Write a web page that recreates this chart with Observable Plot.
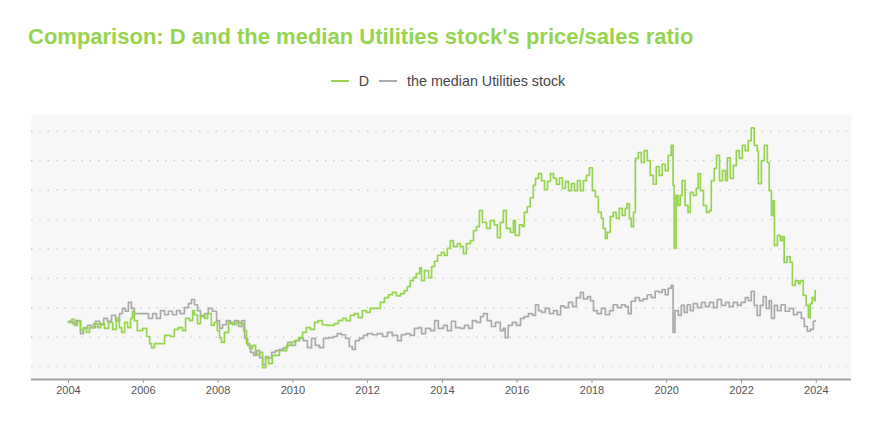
<!DOCTYPE html>
<html>
<head>
<meta charset="utf-8">
<script src="https://cdn.jsdelivr.net/npm/d3@7"></script>
<script src="https://cdn.jsdelivr.net/npm/@observablehq/plot@0.6"></script>
<style>
  html, body { margin: 0; padding: 0; background: #fff; }
  body { width: 880px; height: 440px; position: relative; font-family: "Liberation Sans", Arial, sans-serif; }
  #title { position: absolute; left: 28px; top: 24px; font-size: 22px; font-weight: bold; color: #96d44f; white-space: nowrap; }
  #legend { position: absolute; left: 9px; width: 880px; top: 73px; display: flex; justify-content: center; align-items: center; font-size: 14.3px; color: #444; }
  #legend .sw { display: inline-block; width: 18px; height: 2px; margin: 0 10px 0 4px; }
  #legend .item { display: flex; align-items: center; margin-right: 6px; }
  #chart { position: absolute; left: 0; top: 100px; }
</style>
</head>
<body>
<div id="title">Comparison: D and the median Utilities stock's price/sales ratio</div>
<div id="legend">
  <span class="item"><span class="sw" style="background:#96d44f"></span>D</span>
  <span class="item"><span class="sw" style="background:#aaaaab"></span>the median Utilities stock</span>
</div>
<div id="chart"></div>
<script>
// Series names
const seriesNames = ["D", "the median Utilities stock"];
const seriesColors = ["#96d44f", "#aaaaab"];

// D: decimal years and price/sales values
const dYears = [2004.00,2004.08,2004.16,2004.24,2004.32,2004.40,2004.48,2004.56,2004.67,2004.78,2004.86,2004.96,2005.07,2005.18,2005.28,2005.36,2005.42,2005.50,2005.58,2005.66,2005.71,2005.76,2005.84,2005.98,2006.09,2006.17,2006.22,2006.30,2006.46,2006.57,2006.73,2006.83,2006.94,2007.05,2007.13,2007.24,2007.32,2007.37,2007.45,2007.53,2007.64,2007.72,2007.82,2007.90,2007.98,2008.04,2008.09,2008.17,2008.28,2008.39,2008.49,2008.60,2008.68,2008.76,2008.84,2008.92,2009.00,2009.11,2009.19,2009.27,2009.35,2009.45,2009.56,2009.64,2009.75,2009.83,2009.94,2010.04,2010.15,2010.26,2010.36,2010.47,2010.58,2010.68,2010.79,2010.90,2011.01,2011.11,2011.22,2011.33,2011.43,2011.54,2011.65,2011.75,2011.86,2011.97,2012.07,2012.21,2012.34,2012.45,2012.56,2012.66,2012.77,2012.88,2012.98,2013.06,2013.14,2013.22,2013.30,2013.39,2013.44,2013.52,2013.63,2013.71,2013.79,2013.87,2013.97,2014.05,2014.13,2014.21,2014.29,2014.40,2014.48,2014.56,2014.64,2014.75,2014.83,2014.91,2014.99,2015.07,2015.18,2015.28,2015.39,2015.47,2015.55,2015.63,2015.71,2015.82,2015.90,2015.95,2016.06,2016.14,2016.19,2016.27,2016.35,2016.43,2016.49,2016.57,2016.65,2016.73,2016.81,2016.89,2016.97,2017.05,2017.13,2017.21,2017.29,2017.37,2017.45,2017.53,2017.61,2017.69,2017.77,2017.85,2017.93,2018.01,2018.09,2018.17,2018.25,2018.30,2018.36,2018.41,2018.49,2018.57,2018.65,2018.73,2018.81,2018.89,2018.94,2019.00,2019.05,2019.11,2019.16,2019.24,2019.32,2019.40,2019.48,2019.56,2019.64,2019.72,2019.80,2019.88,2019.96,2020.04,2020.12,2020.17,2020.20,2020.25,2020.30,2020.36,2020.41,2020.49,2020.57,2020.63,2020.71,2020.79,2020.84,2020.90,2020.98,2021.06,2021.14,2021.19,2021.27,2021.33,2021.41,2021.49,2021.57,2021.62,2021.70,2021.78,2021.86,2021.94,2022.02,2022.10,2022.18,2022.26,2022.34,2022.42,2022.45,2022.53,2022.61,2022.69,2022.74,2022.80,2022.85,2022.88,2022.96,2023.04,2023.09,2023.14,2023.22,2023.30,2023.36,2023.44,2023.52,2023.57,2023.65,2023.73,2023.79,2023.84,2023.89,2023.95,2023.97];
const dValues = [1.75,1.80,1.70,1.77,1.61,1.66,1.58,1.66,1.73,1.66,1.73,1.65,1.75,1.63,1.82,1.66,1.58,1.75,1.66,1.82,1.94,1.78,1.61,1.65,1.51,1.39,1.32,1.39,1.39,1.53,1.51,1.63,1.66,1.61,1.82,1.78,1.95,1.88,1.73,1.87,1.82,1.90,1.70,1.75,1.61,1.49,1.41,1.58,1.75,1.71,1.75,1.73,1.61,1.39,1.31,1.36,1.20,1.24,0.98,1.15,1.05,1.19,1.19,1.27,1.27,1.36,1.41,1.44,1.49,1.58,1.66,1.63,1.75,1.78,1.71,1.70,1.70,1.73,1.78,1.82,1.78,1.87,1.90,1.83,1.95,1.92,1.99,1.99,2.09,2.17,2.22,2.26,2.20,2.24,2.29,2.36,2.46,2.51,2.58,2.68,2.46,2.63,2.51,2.70,2.79,2.89,2.94,2.89,3.01,3.14,3.04,3.09,3.04,2.92,3.09,3.14,3.31,3.38,3.65,3.45,3.35,3.48,3.41,3.19,3.45,3.65,3.35,3.28,3.48,3.23,3.41,3.38,3.62,3.72,3.87,4.08,4.20,4.28,4.16,4.01,4.15,4.28,4.20,4.10,4.21,4.03,4.15,3.99,4.11,3.99,4.16,3.99,4.16,4.25,4.38,3.99,3.89,3.62,3.52,3.35,3.18,3.28,3.55,3.62,3.52,3.69,3.57,3.69,3.77,3.52,3.38,3.62,4.54,4.64,4.47,4.67,4.50,4.25,4.10,4.40,4.25,4.44,4.33,4.59,4.76,4.08,3.01,3.91,3.74,3.91,4.16,3.74,3.62,3.96,3.91,4.03,4.28,3.99,3.74,3.62,3.65,4.16,4.37,4.59,4.16,4.33,4.16,4.55,4.20,4.42,4.67,4.54,4.76,4.67,4.84,5.06,4.76,4.67,4.11,4.50,4.76,4.47,3.99,3.57,3.82,3.06,3.23,3.14,3.21,2.77,2.87,2.77,2.38,2.46,2.41,2.46,2.21,2.04,1.83,2.07,2.17,2.12,2.29];

// Median Utilities stock: decimal years and price/sales values
const mYears = [2004.00,2004.11,2004.21,2004.32,2004.40,2004.51,2004.61,2004.72,2004.83,2004.94,2005.04,2005.15,2005.26,2005.36,2005.44,2005.52,2005.60,2005.68,2005.76,2005.90,2006.03,2006.14,2006.25,2006.35,2006.46,2006.57,2006.67,2006.78,2006.89,2006.99,2007.10,2007.21,2007.29,2007.37,2007.45,2007.53,2007.64,2007.74,2007.85,2007.96,2008.04,2008.12,2008.22,2008.33,2008.44,2008.55,2008.63,2008.71,2008.79,2008.87,2008.95,2009.03,2009.11,2009.19,2009.27,2009.35,2009.43,2009.53,2009.64,2009.75,2009.86,2009.96,2010.07,2010.18,2010.28,2010.39,2010.50,2010.60,2010.71,2010.82,2010.95,2011.09,2011.19,2011.30,2011.41,2011.51,2011.59,2011.67,2011.78,2011.89,2011.99,2012.13,2012.26,2012.40,2012.53,2012.66,2012.80,2012.90,2013.01,2013.14,2013.25,2013.36,2013.44,2013.55,2013.68,2013.79,2013.89,2014.03,2014.13,2014.24,2014.35,2014.48,2014.59,2014.70,2014.80,2014.91,2015.02,2015.10,2015.20,2015.31,2015.42,2015.55,2015.63,2015.68,2015.76,2015.87,2015.98,2016.09,2016.19,2016.30,2016.41,2016.49,2016.57,2016.65,2016.75,2016.86,2016.97,2017.07,2017.16,2017.26,2017.37,2017.48,2017.58,2017.69,2017.77,2017.88,2017.96,2018.04,2018.14,2018.25,2018.36,2018.47,2018.57,2018.68,2018.79,2018.89,2018.97,2019.05,2019.16,2019.27,2019.37,2019.48,2019.59,2019.69,2019.80,2019.88,2019.96,2020.04,2020.12,2020.17,2020.22,2020.31,2020.39,2020.47,2020.55,2020.63,2020.71,2020.82,2020.93,2021.03,2021.14,2021.25,2021.35,2021.46,2021.57,2021.67,2021.78,2021.89,2021.99,2022.10,2022.18,2022.26,2022.34,2022.42,2022.50,2022.58,2022.66,2022.74,2022.80,2022.88,2022.96,2023.06,2023.17,2023.28,2023.39,2023.49,2023.60,2023.68,2023.76,2023.84,2023.92,2023.97];
const mValues = [1.77,1.73,1.78,1.56,1.65,1.70,1.66,1.77,1.71,1.82,1.77,1.87,1.78,1.90,1.99,1.94,2.09,1.99,1.90,1.90,1.90,1.82,1.90,1.82,1.95,1.88,1.94,1.88,1.95,1.90,2.00,2.07,2.14,2.05,1.95,1.85,1.90,1.99,1.94,1.78,1.65,1.71,1.78,1.73,1.78,1.68,1.78,1.48,1.36,1.24,1.19,1.27,1.15,1.03,1.17,1.14,1.24,1.27,1.29,1.32,1.41,1.36,1.44,1.48,1.44,1.32,1.48,1.36,1.32,1.48,1.49,1.51,1.56,1.54,1.48,1.34,1.29,1.44,1.48,1.53,1.56,1.54,1.56,1.51,1.58,1.53,1.44,1.54,1.56,1.53,1.65,1.66,1.56,1.65,1.61,1.78,1.65,1.70,1.61,1.77,1.66,1.65,1.70,1.65,1.78,1.75,1.85,1.90,1.78,1.68,1.75,1.61,1.65,1.49,1.70,1.75,1.70,1.82,1.85,1.90,1.87,2.05,1.95,1.92,1.99,1.90,1.95,1.88,2.03,2.00,2.09,2.02,2.17,2.26,2.15,2.19,2.12,1.95,1.90,1.99,1.88,1.95,2.05,2.00,2.05,2.02,1.90,2.11,2.17,2.12,2.15,2.22,2.17,2.28,2.26,2.31,2.22,2.33,2.38,1.58,1.95,1.87,2.04,1.92,2.05,1.95,2.07,2.00,2.09,2.02,2.09,2.00,2.14,2.04,2.09,2.02,2.09,2.04,2.09,2.17,2.12,2.28,2.04,1.87,2.04,2.19,1.99,2.12,1.82,2.04,1.95,2.05,1.94,1.99,1.88,1.92,1.82,1.68,1.60,1.63,1.77,1.78];

// Axis tick years and gridline values
const tickYears = [2004, 2006, 2008, 2010, 2012, 2014, 2016, 2018, 2020, 2022, 2024];
const gridValues = [1.0, 1.5, 2.0, 2.5, 3.0, 3.5, 4.0, 4.5, 5.0];

function yearToDate(y) {
  const yr = Math.floor(y);
  const start = Date.UTC(yr, 0, 1), end = Date.UTC(yr + 1, 0, 1);
  return new Date(start + (y - yr) * (end - start));
}

const rows = [];
dYears.forEach((y, i) => rows.push({date: yearToDate(y), value: dValues[i], series: seriesNames[0]}));
mYears.forEach((y, i) => rows.push({date: yearToDate(y), value: mValues[i], series: seriesNames[1]}));

const yMin = 0.779, yMax = 5.286;

const chart = Plot.plot({
  width: 880,
  height: 310,
  marginTop: 14,
  marginBottom: 31,
  marginLeft: 31,
  marginRight: 29,
  style: {fontFamily: "'Liberation Sans', Arial, sans-serif", fontSize: "11px", color: "#555", background: "transparent"},
  x: {type: "utc", domain: [yearToDate(2003.01), yearToDate(2024.94)], label: null},
  y: {domain: [yMin, yMax], axis: null},
  color: {domain: seriesNames, range: seriesColors},
  marks: [
    Plot.frame({fill: "#f7f7f7", stroke: null}),
    Plot.ruleY(gridValues, {stroke: "#c4c4c4", strokeWidth: 1.2, strokeDasharray: "1.2,7.2"}),
    Plot.line(rows.filter(d => d.series === seriesNames[1]), {x: "date", y: "value", stroke: seriesColors[1], strokeWidth: 1.7, curve: "step-after"}),
    Plot.line(rows.filter(d => d.series === seriesNames[0]), {x: "date", y: "value", stroke: seriesColors[0], strokeWidth: 1.7, curve: "step-after"}),
    Plot.ruleY([yMin], {stroke: "#a3a3a3", strokeWidth: 2}),
    Plot.axisX({ticks: tickYears.map(y => new Date(Date.UTC(y, 0, 1))), tickFormat: d3.utcFormat("%Y"), tickSize: 4, stroke: "#999", tickPadding: 3, fill: "#555", label: null})
  ]
});
document.getElementById("chart").appendChild(chart);
</script>
</body>
</html>
